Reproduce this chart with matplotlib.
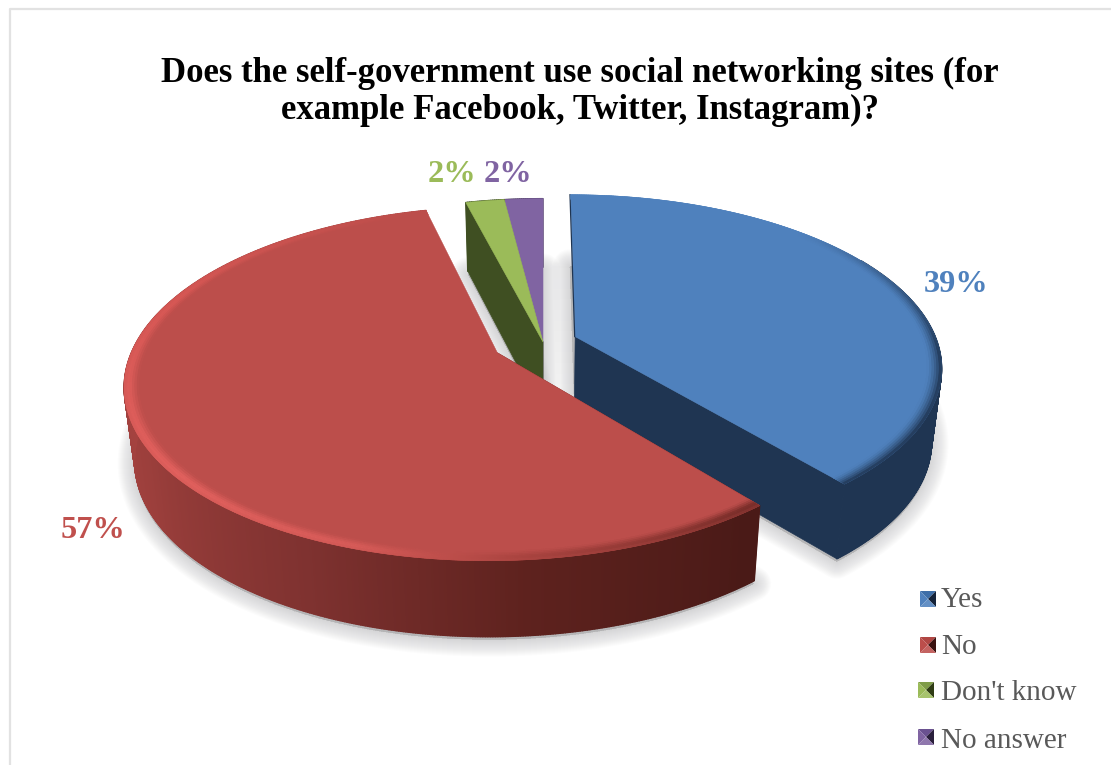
import numpy as np
import matplotlib
matplotlib.use('Agg')
import matplotlib.pyplot as plt
from matplotlib.colors import to_rgb
from matplotlib.collections import PolyCollection
from matplotlib.patches import Polygon

title = 'Does the self-government use social networking sites (for\nexample Facebook, Twitter, Instagram)?'
categories = ['Yes', 'No', "Don't know", 'No answer']
shares = [39, 57, 2, 2]
face_colors = ['#4f81bd', '#bc4e4b', '#9bbb59', '#8064a2']
wall_colors = ['#1f3552', '#7a2c28', '#3f4f22', '#4a3a60']
explode = [0.095, 0.14, 0, 0]

W, H = 1111, 765
cx, cy = 543, 342
A, B, persp = 362, 168, 0.172
depth, depth_q, bottom_scale = 72, 0.05, 0.975


def project(x, y):
    w = 1 + persp * y
    return cx + A * x / w, cy - B * y / w


def project_bottom(x, y):
    w = 1 + persp * y
    return cx + bottom_scale * A * x / w, cy - B * y / w + depth / (1 + depth_q * y)


def mix(c1, c2, t):
    c1, c2 = np.array(to_rgb(c1)), np.array(to_rgb(c2))
    return tuple(c1 + (c2 - c1) * t)


def red_wall(theta):
    stops = [143, 175, 205, 240, 285]
    cols = np.array([to_rgb(c) for c in ['#4a1a17', '#5e221e', '#7f3230', '#9c3f3c', '#ab4542']])
    return tuple(np.interp(theta, stops, cols[:, i]) for i in range(3))


def red_rim(theta):
    stops = [143, 175, 198, 230, 290, 345]
    cols = np.array([to_rgb(c) for c in ['#7a2e2a', '#a8433f', '#d85c59', '#e2615e', '#d85855', '#bc4e4b']])
    return tuple(np.interp(theta, stops, cols[:, i]) for i in range(3))


fig = plt.figure(figsize=(W / 100, H / 100), dpi=100)
ax = fig.add_axes([0, 0, 1, 1])
ax.set_xlim(0, W)
ax.set_ylim(H, 0)
ax.axis('off')

# outer frame of the chart area
ax.plot([9.5, 9.5, W], [H, 8.5, 8.5], color='#e2e2e2', lw=1.6, zorder=0)

edges = np.concatenate([[0], np.cumsum(shares)]) * 3.6
slices = []
for i in range(len(shares)):
    t0, t1 = edges[i], edges[i + 1]
    mid = np.radians((t0 + t1) / 2)
    slices.append(dict(i=i, t0=t0, t1=t1, ox=explode[i] * np.sin(mid), oy=explode[i] * np.cos(mid)))

# soft ground shadow under every slice
for s in slices:
    th = np.radians(np.linspace(s['t0'], s['t1'], 120))
    xs = np.concatenate([[s['ox']], s['ox'] + np.sin(th)])
    ys = np.concatenate([[s['oy']], s['oy'] + np.cos(th)])
    px, py = project_bottom(xs, ys)
    pts = np.column_stack([px, py + 3])
    for lw in range(2, 36, 2):
        ax.add_patch(Polygon(pts, closed=True, fc='#404044', ec='#404044', lw=lw * 0.72,
                             alpha=0.011, joinstyle='round', zorder=1))

z = 2
for s in [slices[3], slices[2], slices[0], slices[1]]:
    i, t0, t1, ox, oy = s['i'], s['t0'], s['t1'], s['ox'], s['oy']
    angles = np.linspace(t0, t1, max(int(t1 - t0) * 3, 12))
    rad = np.radians(angles)

    # radial cut face, only the one turned towards the viewer
    a = np.radians(t1 if i == 0 else t0)
    p0 = project(ox, oy)
    p1 = project(ox + np.sin(a), oy + np.cos(a))
    p2 = project_bottom(ox + np.sin(a), oy + np.cos(a))
    p3 = project_bottom(ox, oy)
    ax.add_patch(Polygon([p0, p1, p2, p3], closed=True, fc=wall_colors[i], ec=wall_colors[i], lw=0.5, zorder=z))

    # outer wall as thin strips so the shade can change along the arc
    quads, cols = [], []
    for k in range(len(rad) - 1):
        # the rear part of the blue wall stays hidden behind its top face
        if i == 0 and angles[k] < 60:
            continue
        a0, a1 = rad[k], rad[k + 1]
        quads.append([project(ox + np.sin(a0), oy + np.cos(a0)), project(ox + np.sin(a1), oy + np.cos(a1)),
                      project_bottom(ox + np.sin(a1), oy + np.cos(a1)), project_bottom(ox + np.sin(a0), oy + np.cos(a0))])
        cols.append(red_wall(angles[k]) if i == 1 else to_rgb(wall_colors[i]))
    ax.add_collection(PolyCollection(quads, facecolors=cols, edgecolors=cols, linewidths=1.0, zorder=z))

    # top face
    xs = np.concatenate([[ox], ox + np.sin(rad)])
    ys = np.concatenate([[oy], oy + np.cos(rad)])
    px, py = project(xs, ys)
    ax.add_patch(Polygon(np.column_stack([px, py]), closed=True, fc=face_colors[i], ec=face_colors[i], lw=0.4, zorder=z + 1))

    # thin dark edge on the straight side of the blue slice
    if i == 0:
        ex, ey = project(np.array([ox, ox]), np.array([oy, oy + 1]))
        ax.plot(ex - 0.5, ey, color=wall_colors[0], lw=0.9, zorder=z + 1)

    # bevel along the rim of the two large slices
    if i < 2:
        radii = np.linspace(0.962, 1.0, 7)
        quads, cols = [], []
        for m in range(len(radii) - 1):
            frac = (m + 0.5) / (len(radii) - 1)
            for k in range(len(rad) - 1):
                a0, a1 = rad[k], rad[k + 1]
                r0, r1 = radii[m], radii[m + 1]
                quads.append([project(ox + r0 * np.sin(a0), oy + r0 * np.cos(a0)),
                              project(ox + r0 * np.sin(a1), oy + r0 * np.cos(a1)),
                              project(ox + r1 * np.sin(a1), oy + r1 * np.cos(a1)),
                              project(ox + r1 * np.sin(a0), oy + r1 * np.cos(a0))])
                if i == 1:
                    rim = red_rim(angles[k])
                    t = min(frac * 1.6, 1) if frac < 0.8 else 1 - (frac - 0.8) * 1.2
                else:
                    rim = to_rgb('#1f3552')
                    fade = np.clip((angles[k] - 45) / 50, 0, 1)
                    t = frac ** 1.5 * fade
                cols.append(mix(face_colors[i], rim, t))
        ax.add_collection(PolyCollection(quads, facecolors=cols, edgecolors=cols, linewidths=0.4, zorder=z + 1))
    z += 2

# percentage labels
serif = 'Liberation Serif'
label_pos = [(956, 284), (92.5, 530), (451.5, 174), (507.5, 174)]
label_colors = ['#4f81bd', '#c0504d', '#9bbb59', '#8064a2']
for v, pos, c in zip(shares, label_pos, label_colors):
    ax.text(pos[0], pos[1], f'{v}%', color=c, fontsize=23.3, fontweight='bold', family=serif,
            ha='center', va='center', zorder=30)

ax.text(580, 92, title, fontsize=25, fontweight='bold', family=serif, color='black',
        ha='center', va='center', linespacing=1.15, zorder=30)

# legend with bevelled key squares
key_x = [928, 928, 926, 926]
key_y = [599, 645, 690, 737]
text_y = [600, 647, 693, 741]
key_dark = ['#14233a', '#3a1210', '#2f3c14', '#2a1f3c']
key_light = ['#3d6ea8', '#b04643', '#7f9c48', '#6a5190']
for k in range(4):
    x0, y0, h = key_x[k], key_y[k], 8
    c = (x0, y0)
    tl, tr, br, bl = (x0 - h, y0 - h), (x0 + h, y0 - h), (x0 + h, y0 + h), (x0 - h, y0 + h)
    ax.add_patch(Polygon([tl, tr, c], fc=key_light[k], ec='none', zorder=30))
    ax.add_patch(Polygon([tl, bl, c], fc=face_colors[k], ec='none', zorder=30))
    ax.add_patch(Polygon([tr, br, c], fc=key_dark[k], ec='none', zorder=30))
    ax.add_patch(Polygon([bl, br, c], fc=mix(face_colors[k], '#ffffff', 0.12), ec='none', zorder=30))
    ax.text(941, text_y[k], categories[k], fontsize=21, family=serif, color='#595959',
            ha='left', va='center', zorder=30)

fig.savefig('out.png', dpi=100, facecolor='white')
